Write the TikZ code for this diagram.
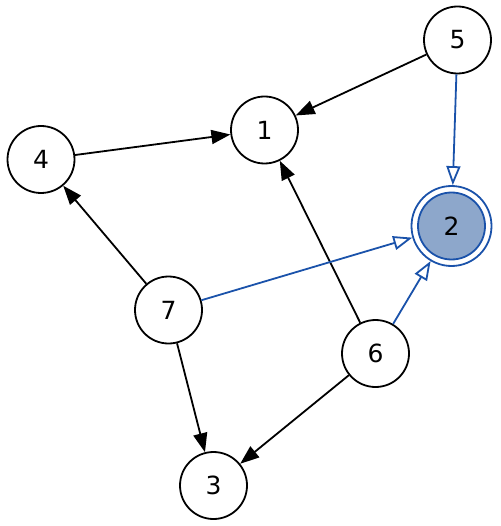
\documentclass[tikz,border=0pt]{standalone}
\usepackage{fontspec}
\setmainfont{DejaVu Sans}
\usetikzlibrary{arrows.meta}
\definecolor{eblue}{HTML}{1A52AA}
\definecolor{nfill}{HTML}{8DA7CB}
\tikzset{
  vert/.style={circle, draw=black, line width=1.8pt, minimum size=67pt, inner sep=0pt, font=\fontsize{25}{25}\selectfont},
  bedge/.style={draw=black, line width=1.8pt, -{Triangle[length=19pt,width=14pt]}},
  uedge/.style={draw=eblue, line width=1.8pt, -{Triangle[open,length=19pt,width=14pt]}},
}
\begin{document}
\begin{tikzpicture}[x=1pt,y=1pt]
\useasboundingbox (0,0) rectangle (500,-526);
\node[vert] (n5) at (457.5,-40) {5};
\node[vert] (n1) at (264.5,-130) {1};
\node[vert] (n4) at (41,-159.5) {4};
\node[circle, draw=eblue, line width=1.8pt, minimum size=80pt, inner sep=0pt] (n2) at (451.5,-226) {};
\node[vert, draw=eblue, fill=nfill] (n2i) at (n2.center) {2};
\node[vert] (n7) at (168.5,-310) {7};
\node[vert] (n6) at (375.5,-353.5) {6};
\node[vert] (n3) at (213.5,-485.5) {3};
\draw[bedge] (n5) -- (n1);
\draw[bedge] (n4) -- (n1);
\draw[bedge] (n7) -- (n4);
\draw[bedge] (n6) -- (n1);
\draw[bedge] (n7) -- (n3);
\draw[bedge] (n6) -- (n3);
\draw[uedge] (n5) -- (n2);
\draw[uedge] (n7) -- (n2);
\draw[uedge] (n6) -- (n2);
\end{tikzpicture}
\end{document}
